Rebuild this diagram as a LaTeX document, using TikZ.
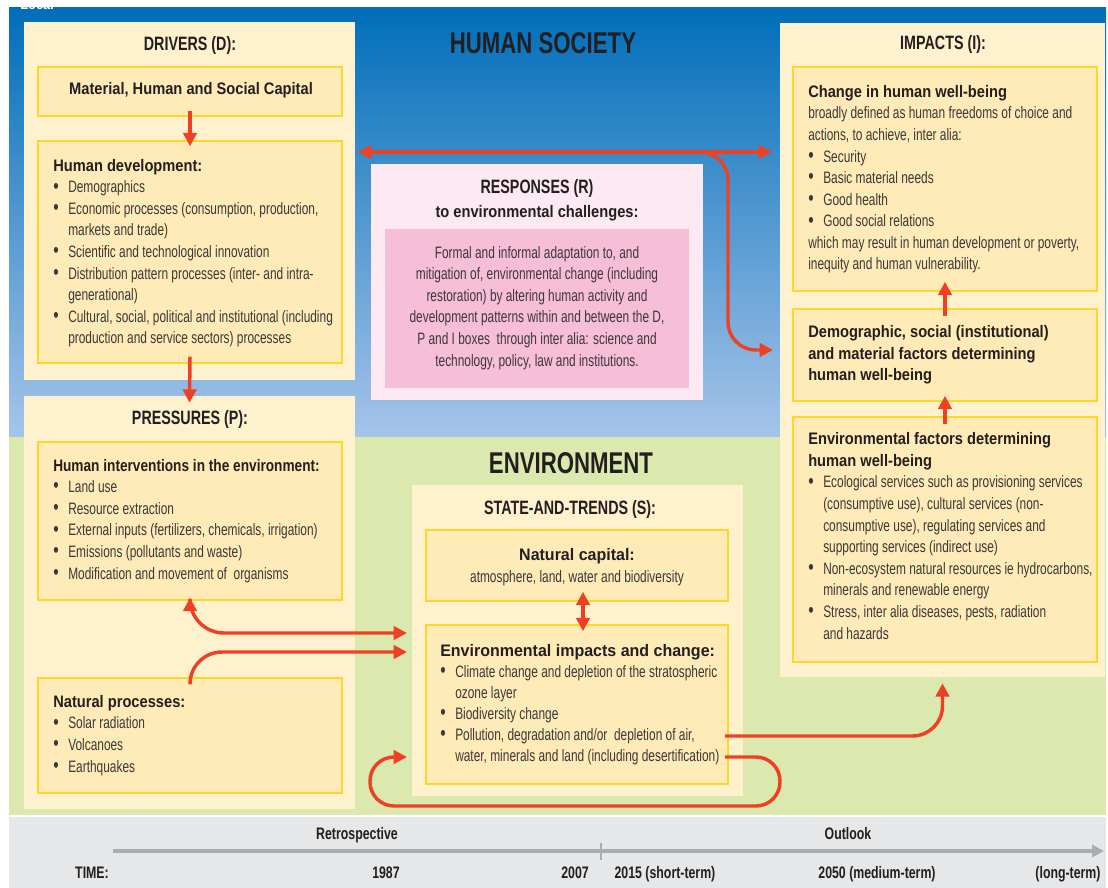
\documentclass[tikz,border=0pt]{standalone}
\usepackage{fontspec}
\usepackage{graphicx}
\setmainfont{Liberation Sans}
\newfontfamily\bodyf{Liberation Sans}[FakeStretch=0.72]
\newfontfamily\headf{Liberation Sans}[FakeStretch=0.88]
\newfontfamily\headn{Liberation Sans}[FakeStretch=0.82]
\newfontfamily\headw{Liberation Sans}[FakeStretch=0.96]
\newfontfamily\titlef{Liberation Sans}[FakeStretch=0.74]
\usetikzlibrary{arrows.meta,fit,calc}
\newdimen\upx \upx=0.75pt
\definecolor{blueT}{RGB}{0,110,185}
\definecolor{blueB}{RGB}{166,196,233}
\definecolor{greenbg}{RGB}{219,232,174}
\definecolor{grayband}{RGB}{230,231,232}
\definecolor{cream}{RGB}{254,241,206}
\definecolor{yfill}{RGB}{255,235,183}
\definecolor{yline}{RGB}{255,214,40}
\definecolor{pinkO}{RGB}{252,233,242}
\definecolor{pinkI}{RGB}{247,190,216}
\definecolor{redc}{RGB}{238,65,36}
\definecolor{headc}{RGB}{35,31,32}
\definecolor{bodyc}{RGB}{58,56,58}
\definecolor{tline}{RGB}{170,172,175}
\newcommand\fbody{\bodyf\fontsize{12.4}{16.2}\selectfont}
\newcommand\hdA[1]{{\headf\bfseries\fontsize{12.5}{16.2}\selectfont\color{headc}#1}}
\newcommand\hdN[1]{{\headn\bfseries\fontsize{12.5}{16.2}\selectfont\color{headc}#1}}
\newcommand\hdW[1]{{\headw\bfseries\fontsize{12.5}{16.2}\selectfont\color{headc}#1}}
\newcommand\bi[1]{\makebox[15\upx][l]{\raisebox{-0.2pt}{\scalebox{1.3}{\textbullet}}}#1}
\newcommand\ci[1]{\hspace*{15\upx}#1}
\begin{document}
\begin{tikzpicture}[x=0.75pt,y=-0.75pt,
  >={Triangle[length=10pt,width=10pt]},
  outer/.style={fill=cream,draw=none,inner sep=0pt},
  ybox/.style={fill=yfill,draw=yline,line width=1.1pt,inner sep=0pt},
  arr/.style={draw=redc,line width=2.6pt},
  ttl/.style={font=\titlef\bfseries\fontsize{14.5}{16}\selectfont,text=headc,anchor=base,inner sep=0pt},
  big/.style={font=\titlef\bfseries\fontsize{22.5}{24}\selectfont,text=headc,anchor=base,inner sep=0pt},
  tl/.style={font=\titlef\bfseries\fontsize{12.5}{14}\selectfont,text=headc,anchor=base,inner sep=0pt},
  txt/.style={font=\fbody,text=bodyc,align=left,anchor=base west,inner sep=0pt},
  ctxt/.style={font=\fbody,text=bodyc,align=center,anchor=base,inner sep=0pt}]
\useasboundingbox (0,0) rectangle (1108,888);
\clip (0,0) rectangle (1108,888);
% backgrounds
\fill[white] (0,0) rectangle (1108,888);
\shade[top color=blueT,bottom color=blueB] (9,8) rectangle (1106,437);
\fill[greenbg] (9,437) rectangle (1106,815);
\fill[grayband] (9,817) rectangle (1106,888);
\node[font=\headf\bfseries\fontsize{11}{12}\selectfont,text=white,anchor=base west,inner sep=0pt] (loc) at (20,10) {Local};
% outer boxes
\node[outer,fit={(24,22) (355,380)}] (drvO) {};
\node[outer,fit={(24,396) (355,809)}] (prsO) {};
\node[fill=pinkO,inner sep=0pt,fit={(371,164) (703,400)}] (rspO) {};
\node[outer,fit={(412,485) (743,796)}] (stO) {};
\node[outer,fit={(780,23) (1105,677)}] (impO) {};
% inner boxes
\node[ybox,fit={(38,67) (342,116)}] (mat) {};
\node[ybox,fit={(38,141) (342,363)}] (hd) {};
\node[ybox,fit={(38,442) (342,600)}] (hi) {};
\node[ybox,fit={(38,678) (342,793)}] (np) {};
\node[fill=pinkI,inner sep=0pt,fit={(385,229) (689,388)}] (rspI) {};
\node[ybox,fit={(426,530) (728,601)}] (nc) {};
\node[ybox,fit={(426,625) (728,784)}] (ei) {};
\node[ybox,fit={(793,67) (1097,291)}] (chg) {};
\node[ybox,fit={(793,309) (1097,401)}] (dem) {};
\node[ybox,fit={(793,417) (1097,662)}] (ef) {};
% titles
\node[big] (hsT) at (543,54) {HUMAN SOCIETY};
\node[big] (envT) at (571,473) {ENVIRONMENT};
\node[ttl] (tD) at (190,51) {DRIVERS (D):};
\node[ttl] (tP) at (190,424) {PRESSURES (P):};
\node[ttl] (tI) at (943,50) {IMPACTS (I):};
\node[ttl] (tS) at (570,514) {STATE-AND-TRENDS (S):};
\node[ttl] (tR) at (537,194) {RESPONSES (R)};
\node[anchor=base,inner sep=0pt] (tR2) at (537,218) {\hdA{to environmental challenges:}};
% texts (multi-line nodes are placed at the baseline of their last line)
\node[anchor=base,inner sep=0pt] (matT) at (191,95) {\hdA{Material, Human and Social Capital}};
\node[txt] (hdT) at (53,344) {\hdA{Human development:}\\
\bi{Demographics}\\
\bi{Economic processes (consumption, production,}\\
\ci{markets and trade)}\\
\bi{Scientific and technological innovation}\\
\bi{Distribution pattern processes (inter- and intra-}\\
\ci{generational)}\\
\bi{Cultural, social, political and institutional (including}\\
\ci{production and service sectors) processes}};
\node[txt] (hiT) at (53,579) {\hdN{Human interventions in the environment:}\\
\bi{Land use}\\
\bi{Resource extraction}\\
\bi{External inputs (fertilizers, chemicals, irrigation)}\\
\bi{Emissions (pollutants and waste)}\\
\bi{Modification and movement of\ \ organisms}};
\node[txt] (npT) at (53,772) {\hdA{Natural processes:}\\
\bi{Solar radiation}\\
\bi{Volcanoes}\\
\bi{Earthquakes}};
\node[ctxt] (rspT) at (537,366) {Formal and informal adaptation to, and\\
mitigation of, environmental change (including\\
restoration) by altering human activity and\\
development patterns within and between the D,\\
P and I boxes\ \ through inter alia: science and\\
technology, policy, law and institutions.};
\node[anchor=base,inner sep=0pt] (ncH) at (577,560) {\hdW{Natural capital:}};
\node[ctxt] (ncT) at (577,582) {atmosphere, land, water and biodiversity};
\node[txt,font=\bodyf\fontsize{12.4}{15.75}\selectfont] (eiT) at (440,761) {\hdW{Environmental impacts and change:}\\
\bi{Climate change and depletion of the stratospheric}\\
\ci{ozone layer}\\
\bi{Biodiversity change}\\
\bi{Pollution, degradation and/or\ \ depletion of air,}\\
\ci{water, minerals and land (including desertification)}};
\node[txt] (chgT) at (808,270) {\hdA{Change in human well-being}\\
broadly defined as human freedoms of choice and\\
actions, to achieve, inter alia:\\
\bi{Security}\\
\bi{Basic material needs}\\
\bi{Good health}\\
\bi{Good social relations}\\
which may result in human development or poverty,\\
inequity and human vulnerability.};
\node[txt] (demT) at (808,381) {\hdA{Demographic, social (institutional)}\\
\hdA{and material factors determining}\\
\hdA{human well-being}};
\node[txt] (efT) at (808,639) {\hdA{Environmental factors determining}\\
\hdA{human well-being}\\
\bi{Ecological services such as provisioning services}\\
\ci{(consumptive use), cultural services (non-}\\
\ci{consumptive use), regulating services and}\\
\ci{supporting services (indirect use)}\\
\bi{Non-ecosystem natural resources ie hydrocarbons,}\\
\ci{minerals and renewable energy}\\
\bi{Stress, inter alia diseases, pests, radiation}\\
\ci{and hazards}};
% timeline
\coordinate (tlS) at (113,851);
\coordinate (tlE) at (1104,851);
\draw[tline,line width=3pt,-{Triangle[length=9pt,width=9pt]}] (tlS) -- (tlE);
\coordinate (tk1) at (601,843);
\coordinate (tk2) at (601,860);
\draw[tline,line width=1.2pt] (tk1) -- (tk2);
\node[tl] (lRet) at (357,839) {Retrospective};
\node[tl] (lOut) at (848,839) {Outlook};
\node[tl] (lTime) at (92,878) {TIME:};
\node[tl] (l1987) at (386,878) {1987};
\node[tl] (l2007) at (575,878) {2007};
\node[tl] (l2015) at (665,878) {2015 (short-term)};
\node[tl] (l2050) at (877,878) {2050 (medium-term)};
\node[tl] (lLong) at (1068,878) {(long-term)};
% arrows
\draw[arr,->] ([yshift=6\upx]mat.south) -- ([yshift=-6\upx]hd.north);
\draw[arr,->] ([yshift=7\upx]hd.south) -- ([yshift=-7\upx]prsO.north);
\coordinate (a3l) at (358,152);
\coordinate (a3r) at (772,152);
\draw[arr,<->] (a3l) -- (a3r);
\coordinate (a4s) at (690,152);
\coordinate (a4c1) at (728,152);
\coordinate (a4c2) at (728,350);
\coordinate (a4e) at (773,350);
\draw[arr,->,rounded corners=28\upx] (a4s) -- (a4c1) -- (a4c2) -- (a4e);
\draw[arr,->] ([yshift=-8\upx]dem.north) -- ([yshift=10\upx]chg.south);
\draw[arr,->] ([yshift=-8\upx]ef.north) -- ([yshift=6\upx]dem.south);
\draw[arr,<->] ([shift={(6\upx,10\upx)}]nc.south) -- ([shift={(6\upx,-7\upx)}]ei.north);
\coordinate (a8e) at (407,633);
\draw[arr,<->,rounded corners=34\upx] ([yshift=3\upx]hi.south) -- (hi.south |- a8e) -- (a8e);
\coordinate (a9e) at (407,652);
\draw[arr,->,rounded corners=32\upx] ([yshift=-7\upx]np.north) -- (np.north |- a9e) -- (a9e);
\coordinate (a10s) at (725,757);
\coordinate (a10c1) at (780,757);
\coordinate (a10c2) at (780,806);
\coordinate (a10c3) at (370,806);
\coordinate (a10c4) at (370,757);
\coordinate (a10e) at (407,757);
\draw[arr,->,rounded corners=24\upx] (a10s) -- (a10c1) -- (a10c2) -- (a10c3) -- (a10c4) -- (a10e);
\coordinate (a11s) at (725,736);
\draw[arr,->,rounded corners=30\upx] (a11s) -- (impO.south |- a11s) -- ([yshift=-6\upx]impO.south);
\end{tikzpicture}
\end{document}
